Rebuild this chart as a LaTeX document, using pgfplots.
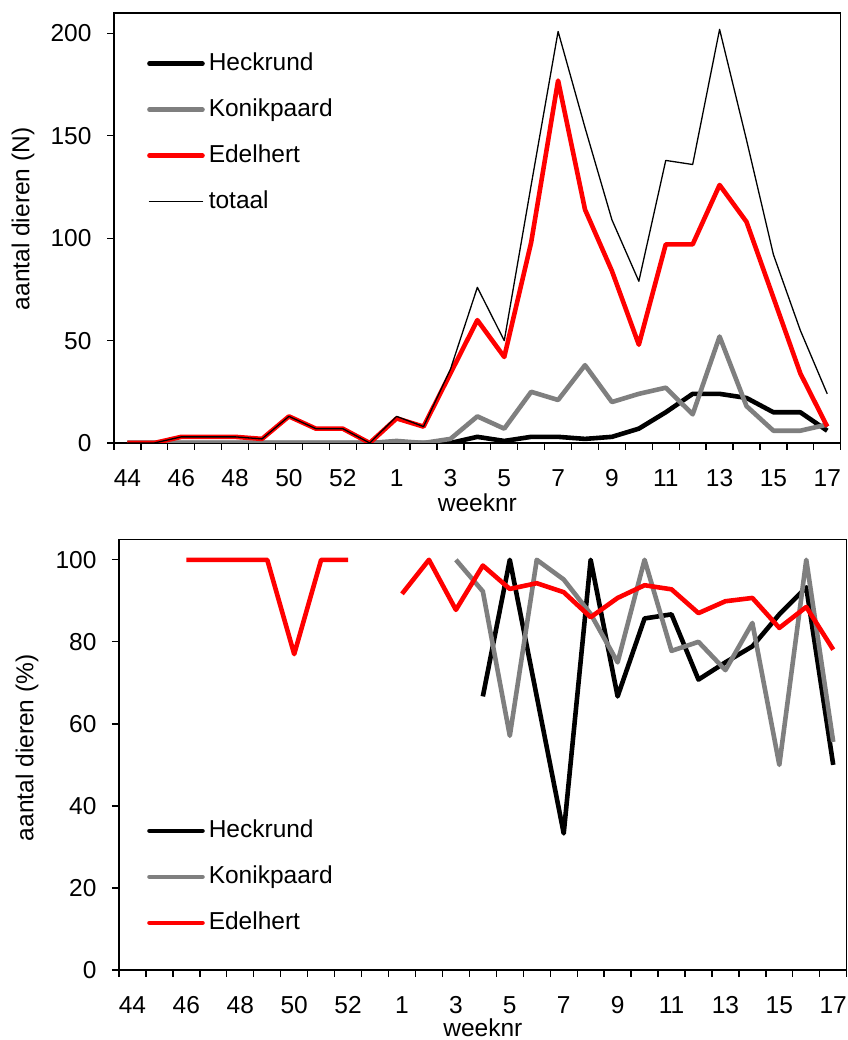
\documentclass[border=0pt]{standalone}
\usepackage{fontspec}
\setmainfont{Liberation Sans}
\usepackage{pgfplots}
\pgfplotsset{compat=1.18}
\definecolor{kgray}{RGB}{127,127,127}
\definecolor{ered}{RGB}{255,0,0}
\newcommand\fs{\fontsize{24.5bp}{29bp}\selectfont}
\pgfplotsset{
  base/.style={
    scale only axis,
    xmin=-0.5, xmax=26.5,
    axis line style={line width=1.3bp},
    every tick/.style={line width=1.3bp, black},
    tick align=outside,
    major tick length=7bp,
    xtick={-0.5,0.5,...,26.5},
    xticklabels={44,,46,,48,,50,,52,,1,,3,,5,,7,,9,,11,,13,,15,,17},
    xticklabel style={xshift=13.46bp, yshift=-16bp},
    yticklabel style={xshift=-12bp},
    xtick pos=bottom, ytick pos=left,
    /pgf/number format/assume math mode=true,
    tick label style={font=\fs},
    label style={font=\fs},
    xlabel={weeknr},
    legend cell align=left,
    legend style={draw=none, fill=none, font=\fs, anchor=north west, inner sep=0pt,
      column sep=0pt, row sep=23bp,
      nodes={inner sep=0pt, text height=18bp, text depth=5bp}},
    legend image code/.code={\path (-2bp,0) (57bp,0); \draw[##1, line cap=round] (0bp,0bp) -- (53bp,0bp);},
    thick line/.style={line width=4.6bp, line join=round},
    unbounded coords=jump,
  }
}
\begin{document}
\begin{tikzpicture}
\useasboundingbox (0,0) rectangle (848bp,1040bp);
% top panel
\begin{axis}[base,
  at={(114bp,597bp)}, anchor=south west,
  width=726.7bp, height=430bp,
  ymin=0, ymax=210, ytick={0,50,...,200},
  ylabel={aantal dieren (N)},
  ylabel style={at={(axis description cs:-0.1252,0.521)}, anchor=center},
  xlabel style={at={(axis description cs:0.5,-0.1593)}, anchor=base},
  legend style={at={(axis description cs:0.0426,0.9094)}},
]
\addplot[black, thick line] coordinates {
(0,0)(1,0)(2,0)(3,0)(4,0)(5,0)(6,0)(7,0)(8,0)(9,0)(10,0)(11,0)(12,0)(13,3)(14,1)(15,3)(16,3)(17,2)(18,3)(19,7)(20,15)(21,24)(22,24)(23,22)(24,15)(25,15)(26,6)};
\addlegendentry{Heckrund}
\addplot[kgray, thick line] coordinates {
(0,0)(1,0)(2,0)(3,0)(4,0)(5,0)(6,0)(7,0)(8,0)(9,0)(10,1)(11,0)(12,2)(13,13)(14,7)(15,25)(16,21)(17,38)(18,20)(19,24)(20,27)(21,14)(22,52)(23,18)(24,6)(25,6)(26,9)};
\addlegendentry{Konikpaard}
\addplot[ered, thick line] coordinates {
(0,0)(1,0)(2,3)(3,3)(4,3)(5,2)(6,13)(7,7)(8,7)(9,0)(10,12)(11,8)(12,34)(13,60)(14,42)(15,98)(16,177)(17,114)(18,84)(19,48)(20,97)(21,97)(22,126)(23,108)(24,71)(25,34)(26,8)};
\addlegendentry{Edelhert}
\addplot[black, line width=1.3bp, line join=round] coordinates {
(0,0)(1,0)(2,3)(3,3)(4,3)(5,2)(6,13)(7,7)(8,7)(9,0)(10,13)(11,8)(12,36)(13,76)(14,50)(15,126)(16,201)(17,154)(18,109)(19,79)(20,138)(21,136)(22,202)(23,148)(24,92)(25,55)(26,24)};
\addlegendentry{totaal}
\end{axis}
% bottom panel
\begin{axis}[base,
  at={(119bp,70bp)}, anchor=south west,
  width=727.7bp, height=430.7bp,
  ymin=0, ymax=105, ytick={0,20,...,100},
  ylabel={aantal dieren (\%)},
  ylabel style={at={(axis description cs:-0.1264,0.516)}, anchor=center},
  xlabel style={at={(axis description cs:0.5,-0.155)}, anchor=base},
  legend style={at={(axis description cs:0.0357,0.35)}},
]
\addplot[black, thick line] coordinates {
(0,nan)(1,nan)(2,nan)(3,nan)(4,nan)(5,nan)(6,nan)(7,nan)(8,nan)(9,nan)(10,nan)(11,nan)(12,nan)(13,66.7)(14,100)(15,66.7)(16,33.3)(17,100)(18,66.7)(19,85.7)(20,86.7)(21,70.8)(22,75)(23,78.9)(24,86.7)(25,93.3)(26,50)};
\addlegendentry{Heckrund}
\addplot[kgray, thick line] coordinates {
(0,nan)(1,nan)(2,nan)(3,nan)(4,nan)(5,nan)(6,nan)(7,nan)(8,nan)(9,nan)(10,nan)(11,nan)(12,100)(13,92.3)(14,57.1)(15,100)(16,95.2)(17,86.8)(18,75)(19,100)(20,77.8)(21,80)(22,73.1)(23,84.6)(24,50)(25,100)(26,55.6)};
\addlegendentry{Konikpaard}
\addplot[ered, thick line] coordinates {
(0,nan)(1,nan)(2,100)(3,100)(4,100)(5,100)(6,77)(7,100)(8,100)(9,nan)(10,91.7)(11,100)(12,87.8)(13,98.6)(14,92.9)(15,94.3)(16,92.1)(17,86)(18,90.7)(19,93.8)(20,92.8)(21,87)(22,89.9)(23,90.7)(24,83.4)(25,88.5)(26,78.1)};
\addlegendentry{Edelhert}
\end{axis}
\end{tikzpicture}
\end{document}
